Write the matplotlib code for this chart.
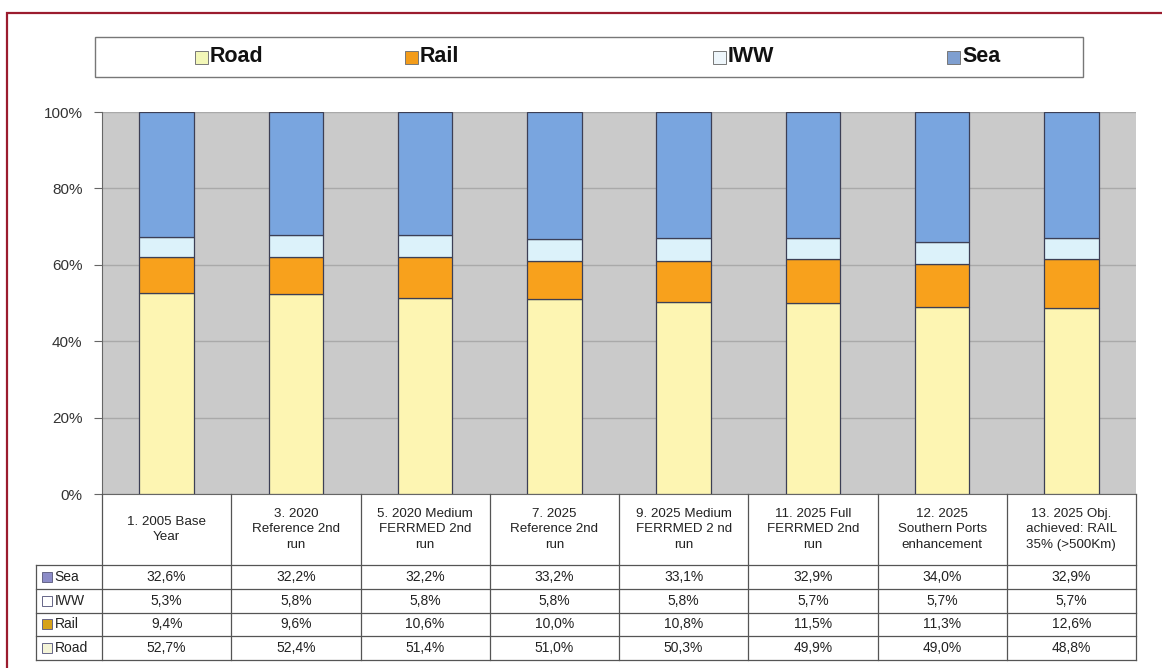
import matplotlib.pyplot as plt
import numpy as np
from matplotlib.patches import Rectangle

plt.rcParams['font.family'] = ['Liberation Sans', 'DejaVu Sans']

scenarios = [
    "1. 2005 Base\nYear",
    "3. 2020\nReference 2nd\nrun",
    "5. 2020 Medium\nFERRMED 2nd\nrun",
    "7. 2025\nReference 2nd\nrun",
    "9. 2025 Medium\nFERRMED 2 nd\nrun",
    "11. 2025 Full\nFERRMED 2nd\nrun",
    "12. 2025\nSouthern Ports\nenhancement",
    "13. 2025 Obj.\nachieved: RAIL\n35% (>500Km)",
]
road = [52.7, 52.4, 51.4, 51.0, 50.3, 49.9, 49.0, 48.8]
rail = [9.4, 9.6, 10.6, 10.0, 10.8, 11.5, 11.3, 12.6]
iww = [5.3, 5.8, 5.8, 5.8, 5.8, 5.7, 5.7, 5.7]
sea = [32.6, 32.2, 32.2, 33.2, 33.1, 32.9, 34.0, 32.9]

modes = ["Road", "Rail", "IWW", "Sea"]
series = {"Road": road, "Rail": rail, "IWW": iww, "Sea": sea}
colors = {"Road": "#fdf5b2", "Rail": "#f8a11c", "IWW": "#dcf2fa", "Sea": "#79a5df"}
key_colors = {"Road": "#f4f4d8", "Rail": "#d6a21a", "IWW": "#ffffff", "Sea": "#8c8cc8"}
legend_colors = {"Road": "#f3f7b8", "Rail": "#f39c1a", "IWW": "#eef6fb", "Sea": "#7f9fd0"}

W, H = 1162, 668
fig = plt.figure(figsize=(W / 100, H / 100), dpi=100)


def fx(px):
    return px / W


def fy(py):
    return 1 - py / H


# outer frame
fig.patches.append(Rectangle((fx(7), fy(700)), fx(1170), fy(13) - fy(700),
                             transform=fig.transFigure, fill=False,
                             edgecolor="#9b1c2e", linewidth=1.6))

# chart axes
x_left, x_right, y_top, y_bot = 102, 1136, 112, 494
ax = fig.add_axes([fx(x_left), fy(y_bot), fx(x_right - x_left), fy(y_top) - fy(y_bot)])
ax.set_facecolor("#cacaca")
x = np.arange(len(scenarios))
bottom = np.zeros(len(scenarios))
for m in modes:
    vals = np.array(series[m])
    ax.bar(x, vals, width=0.42, bottom=bottom, color=colors[m],
           edgecolor="#3c3f55", linewidth=0.9, zorder=3)
    bottom += vals
ax.set_xlim(-0.5, len(scenarios) - 0.5)
ax.set_ylim(0, 100)
ax.set_yticks(np.arange(0, 101, 20))
ax.set_yticklabels([f"{v}%" for v in range(0, 101, 20)], fontsize=11, color="#333333")
ax.set_xticks([])
ax.grid(axis="y", color="#a9a9a9", linewidth=1.0, zorder=1)
for s in ["top", "right"]:
    ax.spines[s].set_visible(False)
ax.spines["left"].set_color("#666666")
ax.spines["bottom"].set_color("#666666")
ax.tick_params(axis="y", length=6, color="#666666", pad=8)

# data table
t_left, t_bot = 36, 660
cat_w = (x_right - x_left) / len(scenarios)
lab_w = (x_left - t_left) / cat_w
tax = fig.add_axes([fx(t_left), fy(t_bot), fx(x_right - t_left), fy(y_bot) - fy(t_bot)])
tax.set_xlim(-0.5 - lab_w, len(scenarios) - 0.5)
tax.set_ylim(t_bot - y_bot, 0)
tax.axis("off")
head_h = 71
row_h = (t_bot - y_bot - head_h) / 4
lc = "#555555"
for i in range(len(scenarios) + 1):
    tax.plot([i - 0.5, i - 0.5], [0, t_bot - y_bot], color=lc, lw=0.9, clip_on=False)
tax.plot([-0.5 - lab_w] * 2, [head_h, t_bot - y_bot], color=lc, lw=0.9, clip_on=False)
for r in range(5):
    yy = head_h + r * row_h
    tax.plot([-0.5 - lab_w, len(scenarios) - 0.5], [yy, yy], color=lc, lw=0.9, clip_on=False)
for i, lab in enumerate(scenarios):
    tax.text(i, head_h / 2, lab, ha="center", va="center", fontsize=9.6,
             color="#222222", linespacing=1.35)
for r, m in enumerate(["Sea", "IWW", "Rail", "Road"]):
    yc = head_h + (r + 0.5) * row_h
    tax.add_patch(Rectangle((-0.5 - lab_w + 0.045, yc - 5), 0.075, 10,
                            facecolor=key_colors[m], edgecolor="#666688", lw=0.7))
    tax.text(-0.5 - lab_w + 0.145, yc, m, ha="left", va="center", fontsize=10, color="#222222")
    for i, v in enumerate(series[m]):
        tax.text(i, yc, f"{v:.1f}%".replace(".", ","), ha="center", va="center",
                 fontsize=10, color="#222222")

# legend box
lx0, lx1, ly0, ly1 = 95, 1083, 37, 77
fig.patches.append(Rectangle((fx(lx0), fy(ly1)), fx(lx1 - lx0), fy(ly0) - fy(ly1),
                             transform=fig.transFigure, facecolor="white",
                             edgecolor="#777777", linewidth=1.0))
leg_x = {"Road": 195, "Rail": 405, "IWW": 713, "Sea": 947}
for m in modes:
    fig.patches.append(Rectangle((fx(leg_x[m]), fy(64)), fx(13), fy(51) - fy(64),
                                 transform=fig.transFigure, facecolor=legend_colors[m],
                                 edgecolor="#777777", linewidth=0.7))
    fig.text(fx(leg_x[m] + 15), fy(57), m, ha="left", va="center",
             fontsize=15.5, fontweight="bold", color="#111111")

fig.savefig("out.png", dpi=100)
